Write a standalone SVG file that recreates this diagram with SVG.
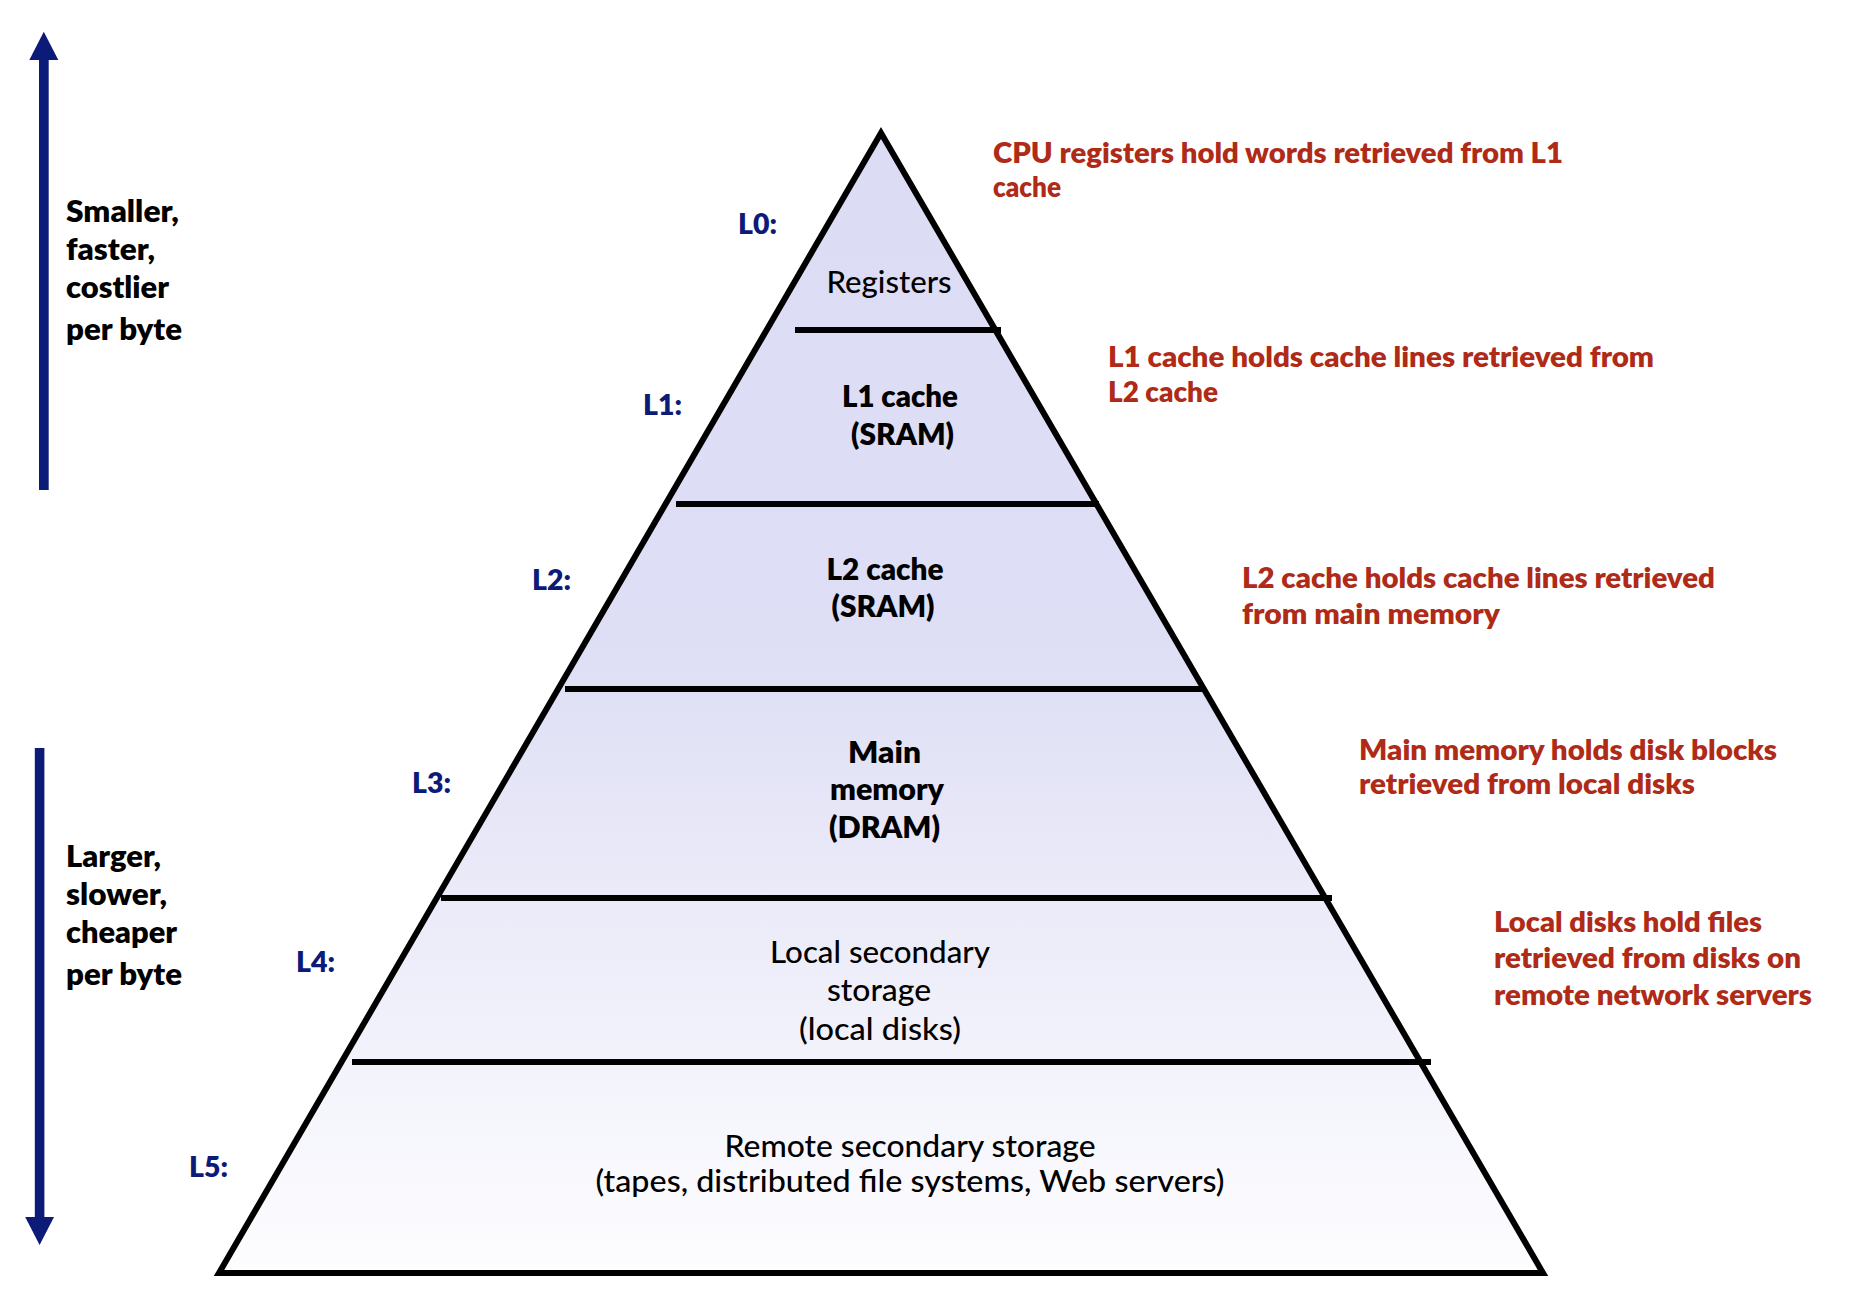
<svg xmlns="http://www.w3.org/2000/svg" width="1876" height="1310" viewBox="0 0 1876 1310">
<defs>
<linearGradient id="pyr" x1="0" y1="127" x2="0" y2="1273" gradientUnits="userSpaceOnUse">
<stop offset="0" stop-color="#DCDCF5"/>
<stop offset="0.45" stop-color="#DEDEF5"/>
<stop offset="1" stop-color="#FDFDFF"/>
</linearGradient>
<style>
text{font-family:Lato,"Open Sans","Liberation Sans",sans-serif;}
.side{font-size:30px;font-weight:800;fill:#000;}
.lvl{font-size:29px;font-weight:800;fill:#0C1A78;}
.in{font-size:30px;fill:#000;text-anchor:middle;}
.b{font-weight:800;}
.r{font-weight:500;}
.note{font-size:28px;font-weight:800;fill:#AF2A17;}
.div{stroke:#000;stroke-width:6;fill:none;}
.arr{fill:#0C1A78;}
</style>
</defs>
<rect width="1876" height="1310" fill="#fff"/>
<g id="pyramid">
<polygon points="881,133 1543,1273 219,1273" fill="url(#pyr)" stroke="#000" stroke-width="6" stroke-linejoin="miter"/>
<line class="div" x1="795" y1="330" x2="1001" y2="330"/>
<line class="div" x1="676" y1="504" x2="1099" y2="504"/>
<line class="div" x1="565" y1="689" x2="1204" y2="689"/>
<line class="div" x1="441" y1="898" x2="1332" y2="898"/>
<line class="div" x1="352" y1="1062" x2="1431" y2="1062"/>
</g>
<g id="connectors">
<g id="arrow-up">
<rect class="arr" x="39" y="58" width="9.7" height="432"/>
<polygon class="arr" points="43.8,31.7 29.3,60 58.3,60"/>
</g>
<g id="arrow-down">
<rect class="arr" x="34.8" y="748" width="9.6" height="471"/>
<polygon class="arr" points="25.2,1217 54,1217 39.6,1245"/>
</g>
</g>
<g id="side-top">
<text class="side" x="66" y="222" textLength="113" lengthAdjust="spacingAndGlyphs">Smaller,</text>
<text class="side" x="66" y="260" textLength="89" lengthAdjust="spacingAndGlyphs">faster,</text>
<text class="side" x="66" y="298" textLength="103" lengthAdjust="spacingAndGlyphs">costlier</text>
<text class="side" x="66" y="340" textLength="116" lengthAdjust="spacingAndGlyphs">per byte</text>
</g>
<g id="side-bottom">
<text class="side" x="66" y="867" textLength="95" lengthAdjust="spacingAndGlyphs">Larger,</text>
<text class="side" x="66" y="905" textLength="101" lengthAdjust="spacingAndGlyphs">slower,</text>
<text class="side" x="66" y="943" textLength="111" lengthAdjust="spacingAndGlyphs">cheaper</text>
<text class="side" x="66" y="985" textLength="116" lengthAdjust="spacingAndGlyphs">per byte</text>
</g>
<g id="L0">
<text class="lvl" x="738" y="234" textLength="39" lengthAdjust="spacingAndGlyphs">L0:</text>
<text class="in r" x="889" y="293" textLength="125" lengthAdjust="spacingAndGlyphs">Registers</text>
<text class="note" x="993" y="163" textLength="570" lengthAdjust="spacingAndGlyphs">CPU registers hold words retrieved from L1</text>
<text class="note" x="993" y="197" textLength="68" lengthAdjust="spacingAndGlyphs">cache</text>
</g>
<g id="L1">
<text class="lvl" x="643" y="415" textLength="39" lengthAdjust="spacingAndGlyphs">L1:</text>
<text class="in b" x="900" y="407" textLength="116" lengthAdjust="spacingAndGlyphs">L1 cache</text>
<text class="in b" x="902.5" y="445" textLength="103" lengthAdjust="spacingAndGlyphs">(SRAM)</text>
<text class="note" x="1108" y="367" textLength="546" lengthAdjust="spacingAndGlyphs">L1 cache holds cache lines retrieved from</text>
<text class="note" x="1108" y="402" textLength="110" lengthAdjust="spacingAndGlyphs">L2 cache</text>
</g>
<g id="L2">
<text class="lvl" x="532" y="590" textLength="39" lengthAdjust="spacingAndGlyphs">L2:</text>
<text class="in b" x="885" y="580" textLength="117" lengthAdjust="spacingAndGlyphs">L2 cache</text>
<text class="in b" x="883" y="617" textLength="103" lengthAdjust="spacingAndGlyphs">(SRAM)</text>
<text class="note" x="1242" y="588" textLength="473" lengthAdjust="spacingAndGlyphs">L2 cache holds cache lines retrieved</text>
<text class="note" x="1242" y="624" textLength="258" lengthAdjust="spacingAndGlyphs">from main memory</text>
</g>
<g id="L3">
<text class="lvl" x="412" y="793" textLength="39" lengthAdjust="spacingAndGlyphs">L3:</text>
<text class="in b" x="884.5" y="763" textLength="73" lengthAdjust="spacingAndGlyphs">Main</text>
<text class="in b" x="887" y="800" textLength="114" lengthAdjust="spacingAndGlyphs">memory</text>
<text class="in b" x="884.5" y="838" textLength="111" lengthAdjust="spacingAndGlyphs">(DRAM)</text>
<text class="note" x="1359" y="760" textLength="418" lengthAdjust="spacingAndGlyphs">Main memory holds disk blocks</text>
<text class="note" x="1359" y="794" textLength="336" lengthAdjust="spacingAndGlyphs">retrieved from local disks</text>
</g>
<g id="L4">
<text class="lvl" x="296" y="972" textLength="39" lengthAdjust="spacingAndGlyphs">L4:</text>
<text class="in r" x="880" y="963" textLength="220" lengthAdjust="spacingAndGlyphs">Local secondary</text>
<text class="in r" x="879" y="1001" textLength="104" lengthAdjust="spacingAndGlyphs">storage</text>
<text class="in r" x="880" y="1040" textLength="162" lengthAdjust="spacingAndGlyphs">(local disks)</text>
<text class="note" x="1494" y="932" textLength="268" lengthAdjust="spacingAndGlyphs">Local disks hold files</text>
<text class="note" x="1494" y="968" textLength="307" lengthAdjust="spacingAndGlyphs">retrieved from disks on</text>
<text class="note" x="1494" y="1005" textLength="318" lengthAdjust="spacingAndGlyphs">remote network servers</text>
</g>
<g id="L5">
<text class="lvl" x="189" y="1177" textLength="39" lengthAdjust="spacingAndGlyphs">L5:</text>
<text class="in r" x="910" y="1157" textLength="371" lengthAdjust="spacingAndGlyphs">Remote secondary storage</text>
<text class="in r" x="910" y="1192" textLength="629" lengthAdjust="spacingAndGlyphs">(tapes, distributed file systems, Web servers)</text>
</g>
</svg>
